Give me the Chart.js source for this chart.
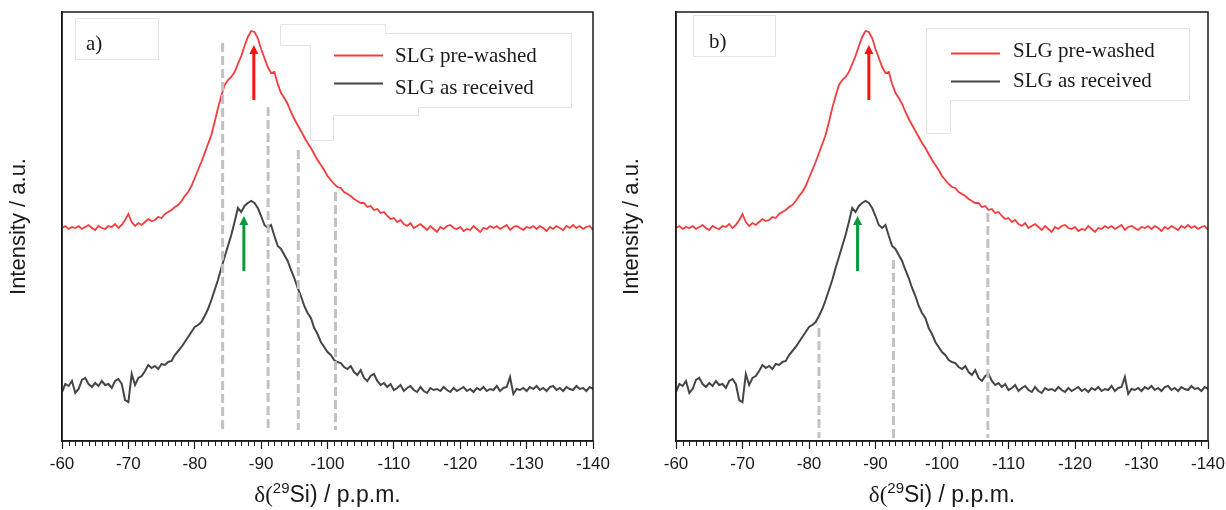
<!DOCTYPE html>
<html>
<head>
<meta charset="utf-8">
<script src="https://cdn.jsdelivr.net/npm/chart.js@4.4.1/dist/chart.umd.min.js"></script>
<style>
    html, body { margin: 0; padding: 0; background: #fff; }
    #wrap { width: 1226px; height: 510px; display: flex; }
    .panel { position: relative; width: 613px; height: 510px; }
</style>
</head>
<body>
<div id="wrap">
    <div class="panel"><canvas id="chart-a" width="613" height="510"></canvas></div>
    <div class="panel"><canvas id="chart-b" width="613" height="510"></canvas></div>
</div>
<script>
// chemical shift grid (ppm)
const shift = [
    -60, -60.5, -61, -61.5, -62, -62.5, -63, -63.5, -64, -64.5, -65, -65.5, -66, -66.5, -67, -67.5, -68, -68.5, -69, -69.5,
    -70, -70.5, -71, -71.5, -72, -72.5, -73, -73.5, -74, -74.5, -75, -75.5, -76, -76.5, -77, -77.5, -78, -78.5, -79, -79.5,
    -80, -80.5, -81, -81.5, -82, -82.5, -83, -83.5, -84, -84.5, -85, -85.5, -86, -86.5, -87, -87.5, -88, -88.5, -89, -89.5,
    -90, -90.5, -91, -91.5, -92, -92.5, -93, -93.5, -94, -94.5, -95, -95.5, -96, -96.5, -97, -97.5, -98, -98.5, -99, -99.5,
    -100, -100.5, -101, -101.5, -102, -102.5, -103, -103.5, -104, -104.5, -105, -105.5, -106, -106.5, -107, -107.5, -108, -108.5, -109, -109.5,
    -110, -110.5, -111, -111.5, -112, -112.5, -113, -113.5, -114, -114.5, -115, -115.5, -116, -116.5, -117, -117.5, -118, -118.5, -119, -119.5,
    -120, -120.5, -121, -121.5, -122, -122.5, -123, -123.5, -124, -124.5, -125, -125.5, -126, -126.5, -127, -127.5, -128, -128.5, -129, -129.5,
    -130, -130.5, -131, -131.5, -132, -132.5, -133, -133.5, -134, -134.5, -135, -135.5, -136, -136.5, -137, -137.5, -138, -138.5, -139, -139.5,
    -140
];

// intensities (a.u., stacked offsets included)
const preWashed = [
    213, 215, 212, 214, 213, 215, 212, 214, 216, 213, 211, 215, 213, 212, 215, 214, 217, 213, 216, 221,
    227, 219, 215, 218, 216, 219, 222, 220, 221, 224, 223, 227, 229, 231, 234, 236, 240, 245, 249, 255,
    263, 271, 279, 288, 297, 306, 319, 333, 345, 356, 361, 364, 369, 377, 385, 395, 404, 410, 409, 403,
    392, 383, 374, 368, 369, 357, 348, 343, 337, 329, 322, 316, 310, 304, 298, 293, 287, 281, 276, 271,
    265, 261, 257, 254, 253, 249, 247, 245, 242, 240, 238, 238, 234, 235, 231, 232, 228, 229, 225, 222,
    223, 219, 221, 217, 215, 218, 213, 215, 217, 214, 211, 215, 212, 209, 214, 212, 215, 216, 213, 212,
    214, 210, 212, 211, 215, 212, 209, 213, 212, 215, 213, 215, 212, 214, 216, 211, 214, 215, 213, 211,
    214, 213, 215, 212, 215, 213, 210, 214, 212, 215, 213, 211, 215, 213, 216, 213, 215, 212, 214, 215,
    211
];
const asReceived = [
    49, 57, 55, 60, 48, 52, 61, 63, 57, 54, 58, 55, 60, 56, 57, 53, 60, 62, 57, 41,
    39, 67, 56, 63, 65, 70, 76, 73, 75, 72, 77, 76, 79, 80, 86, 90, 94, 99, 104, 109,
    114, 116, 119, 125, 132, 141, 151, 161, 173, 184, 195, 206, 219, 233, 229, 235, 238, 240, 238, 233,
    225, 216, 213, 216, 205, 195, 192, 186, 180, 171, 163, 153, 145, 135, 128, 123, 113, 107, 99, 94,
    89, 86, 81, 79, 78, 74, 72, 75, 69, 66, 71, 63, 60, 65, 67, 60, 56, 58, 54, 57,
    51, 53, 56, 50, 53, 55, 51, 49, 54, 50, 48, 53, 51, 52, 50, 54, 51, 49, 53, 50,
    52, 54, 50, 52, 49, 53, 51, 54, 50, 52, 51, 55, 50, 53, 54, 64, 47, 52, 51, 53,
    50, 54, 52, 55, 51, 53, 50, 54, 55, 51, 53, 50, 54, 52, 51, 55, 52, 53, 50, 54,
    52
];

const xTicks = [-60, -70, -80, -90, -100, -110, -120, -130, -140];

// dashed markers: position, top (a.u.)
const dashA = [-84.2, -91.05, -95.6, -101.2];
const dashTopA = [398, 334, 291, 249];
const dashB = [-81.5, -92.7, -106.9];
const dashTopB = [113, 181, 228];

// arrows: red (pre-washed max), green (as received max)
const arrowShiftA = [-88.9, -87.4];
const arrowShiftB = [-89.0, -87.3];
const arrowFrom = [341, 170];
const arrowTo = [396, 225];
const arrowColors = ['#ff1010', '#0a9a3c'];

const RED = '#f53b3b';
const GREY = '#454545';
const AXIS = '#1a1a1a';

const decor = {
    id: 'decor',
    beforeDatasetsDraw(chart, args, o) {
        const ctx = chart.ctx;
        ctx.save();
        ctx.fillStyle = '#fff';
        ctx.strokeStyle = '#e3e3e3';
        ctx.lineWidth = 1;
        [o.labelBox, o.legendBox].forEach(poly => {
            ctx.beginPath();
            poly.forEach((p, i) => i ? ctx.lineTo(p[0], p[1]) : ctx.moveTo(p[0], p[1]));
            ctx.closePath();
            ctx.fill();
            ctx.stroke();
        });
        ctx.restore();
    },
    afterDatasetsDraw(chart, args, o) {
        const { ctx, scales: { x, y } } = chart;
        ctx.save();
        // dashed guide lines
        ctx.strokeStyle = '#c2c2c2';
        ctx.lineWidth = 3;
        ctx.setLineDash([9, 4]);
        o.dashes.forEach((s, i) => {
            const px = x.getPixelForValue(s);
            ctx.beginPath();
            ctx.moveTo(px, y.getPixelForValue(o.dashTops[i]));
            ctx.lineTo(px, y.getPixelForValue(o.dashBottom));
            ctx.stroke();
        });
        ctx.setLineDash([]);
        // arrows
        o.arrows.forEach((s, i) => {
            const px = x.getPixelForValue(s);
            const y0 = y.getPixelForValue(arrowFrom[i]);
            const y1 = y.getPixelForValue(arrowTo[i]);
            ctx.strokeStyle = arrowColors[i];
            ctx.fillStyle = arrowColors[i];
            ctx.lineWidth = 3;
            ctx.beginPath();
            ctx.moveTo(px, y0);
            ctx.lineTo(px, y1 + 7);
            ctx.stroke();
            ctx.beginPath();
            ctx.moveTo(px, y1);
            ctx.lineTo(px - 4.5, y1 + 9);
            ctx.lineTo(px + 4.5, y1 + 9);
            ctx.closePath();
            ctx.fill();
        });
        ctx.restore();
    },
    afterDraw(chart, args, o) {
        const { ctx, chartArea: a, scales: { x } } = chart;
        ctx.save();
        // frame
        ctx.strokeStyle = AXIS;
        ctx.lineWidth = 1.5;
        ctx.strokeRect(a.left, a.top, a.right - a.left, a.bottom - a.top);
        // minor ticks every 1 ppm
        ctx.lineWidth = 1;
        ctx.beginPath();
        for (let v = -61; v > -140; v--) {
            if (v % 10 === 0) continue;
            const px = Math.round(x.getPixelForValue(v)) + 0.5;
            ctx.moveTo(px, a.bottom);
            ctx.lineTo(px, a.bottom + 5);
        }
        ctx.stroke();

        // x title with superscript
        const parts = [
            { t: 'δ(', f: '23px "Liberation Serif"', dy: 0 },
            { t: '29', f: '15px "Liberation Sans"', dy: -9 },
            { t: 'Si) / p.p.m.', f: '23px "Liberation Sans"', dy: 0 }
        ];
        let w = 0;
        parts.forEach(p => { ctx.font = p.f; p.w = ctx.measureText(p.t).width; w += p.w; });
        let tx = (a.left + a.right) / 2 - w / 2;
        ctx.fillStyle = AXIS;
        ctx.textBaseline = 'alphabetic';
        parts.forEach(p => { ctx.font = p.f; ctx.fillText(p.t, tx, 502 + p.dy); tx += p.w; });

        // legend
        ctx.font = '21px "Liberation Serif"';
        chart.data.datasets.forEach((ds, i) => {
            const L = o.legend;
            ctx.strokeStyle = ds.borderColor;
            ctx.lineWidth = 2;
            ctx.beginPath();
            ctx.moveTo(L.x, L.lineY[i]);
            ctx.lineTo(L.x + 49, L.lineY[i]);
            ctx.stroke();
            ctx.fillStyle = '#1a1a1a';
            ctx.fillText(ds.label, L.textX, L.baseY[i]);
        });

        // panel label
        ctx.font = '21px "Liberation Serif"';
        ctx.fillText(o.label, o.labelPos[0], o.labelPos[1]);
        ctx.restore();
    }
};

function makeChart(id, cfg) {
    return new Chart(document.getElementById(id), {
        type: 'line',
        data: {
            datasets: [
                {
                    label: 'SLG pre-washed',
                    data: shift.map((s, i) => ({ x: s, y: preWashed[i] })),
                    borderColor: RED,
                    borderWidth: 1.8,
                    pointRadius: 0,
                    tension: 0
                },
                {
                    label: 'SLG as received',
                    data: shift.map((s, i) => ({ x: s, y: asReceived[i] })),
                    borderColor: GREY,
                    borderWidth: 2,
                    pointRadius: 0,
                    tension: 0
                }
            ]
        },
        options: {
            responsive: false,
            animation: false,
            layout: { padding: { top: 12, right: cfg.padRight, bottom: 0, left: 0 } },
            plugins: {
                legend: { display: false },
                tooltip: { enabled: false },
                decor: cfg.decor
            },
            scales: {
                x: {
                    type: 'linear',
                    reverse: true,
                    min: -140,
                    max: -60,
                    afterBuildTicks: s => { s.ticks = xTicks.map(v => ({ value: v })); },
                    ticks: {
                        autoSkip: false,
                        maxRotation: 0,
                        padding: 5,
                        color: '#1a1a1a',
                        font: { family: '"Liberation Sans", Arial', size: 17 },
                        callback: v => String(v)
                    },
                    grid: { drawOnChartArea: false, tickLength: 8, tickColor: AXIS, tickWidth: 1.2 },
                    border: { color: AXIS, width: 1.5 },
                    afterFit: s => { s.height = 69; s.paddingLeft = 0; s.paddingRight = 0; }
                },
                y: {
                    min: 0,
                    max: 429,
                    ticks: { display: false },
                    grid: { display: false },
                    border: { color: AXIS, width: 1.5 },
                    title: {
                        display: true,
                        text: 'Intensity / a.u.',
                        color: '#1a1a1a',
                        font: { family: '"Liberation Sans", Arial', size: 22 },
                        padding: { top: 6, bottom: 0 }
                    },
                    afterFit: s => { s.width = cfg.left; }
                }
            }
        },
        plugins: [decor]
    });
}

makeChart('chart-a', {
    left: 62,
    padRight: 20,
    decor: {
        label: 'a)',
        labelPos: [86, 50],
        labelBox: [[75.5, 18.5], [158.5, 18.5], [158.5, 59.5], [75.5, 59.5]],
        legendBox: [[280.5, 24.5], [385.5, 24.5], [385.5, 33.5], [571.5, 33.5], [571.5, 107.5], [418.5, 107.5],
            [418.5, 115.5], [333.5, 115.5], [333.5, 140.5], [310.5, 140.5], [310.5, 45.5], [280.5, 45.5]],
        legend: { x: 334, textX: 395, lineY: [55.5, 83.5], baseY: [62, 93.5] },
        dashes: dashA,
        dashTops: dashTopA,
        dashBottom: 11,
        arrows: arrowShiftA
    }
});

makeChart('chart-b', {
    left: 63,
    padRight: 18,
    decor: {
        label: 'b)',
        labelPos: [96, 48],
        labelBox: [[80.5, 15.5], [162.5, 15.5], [162.5, 56.5], [80.5, 56.5]],
        legendBox: [[313.5, 28.5], [576.5, 28.5], [576.5, 100.5], [337.5, 100.5], [337.5, 133.5], [313.5, 133.5]],
        legend: { x: 338, textX: 400, lineY: [53.5, 81.5], baseY: [56.5, 86.5] },
        dashes: dashB,
        dashTops: dashTopB,
        dashBottom: 3,
        arrows: arrowShiftB
    }
});
</script>
</body>
</html>
